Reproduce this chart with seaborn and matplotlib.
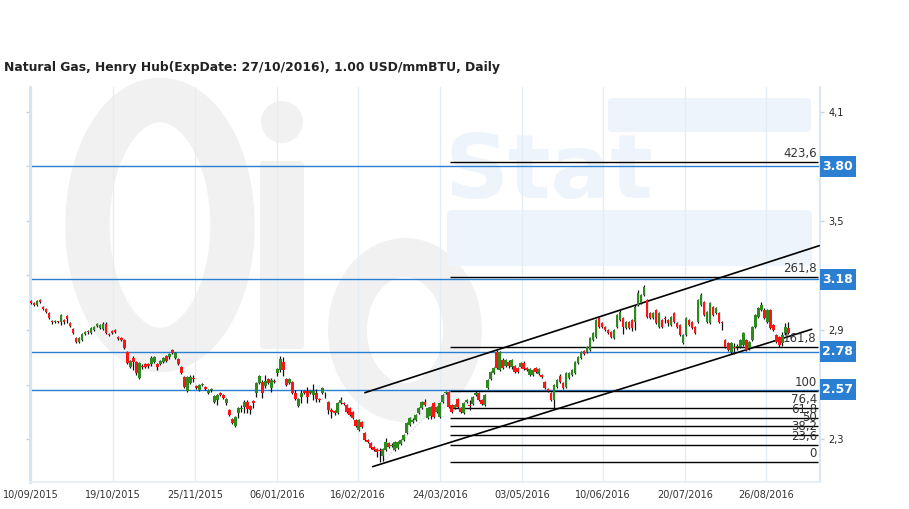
import matplotlib
matplotlib.use("Agg")
import matplotlib.pyplot as plt
import matplotlib.patches as mpatches
import matplotlib.transforms as mtransforms
import numpy as np
import pandas as pd
import seaborn as sns

# ---------------- data ----------------
title = "Natural Gas, Henry Hub(ExpDate: 27/10/2016), 1.00 USD/mmBTU, Daily"

opens = [3.060,3.049,3.038,3.065,3.027,3.016,2.994,2.950,2.944,2.948,
         2.944,2.955,2.977,2.939,2.906,2.856,2.834,2.845,2.878,2.895,
         2.884,2.900,2.922,2.911,2.906,2.933,2.878,2.895,2.900,2.862,
         2.856,2.845,2.779,2.697,2.746,2.724,2.636,2.702,2.713,2.713,
         2.713,2.724,2.713,2.713,2.724,2.757,2.752,2.790,2.746,2.741,
         2.697,2.643,2.565,2.608,2.636,2.592,2.570,2.597,2.586,2.553,
         2.570,2.504,2.515,2.553,2.542,2.498,2.460,2.410,2.372,2.443,
         2.465,2.476,2.504,2.482,2.507,2.553,2.608,2.614,2.592,2.630,
         2.581,2.622,2.664,2.680,2.724,2.630,2.608,2.614,2.553,2.482,
         2.531,2.564,2.564,2.553,2.542,2.553,2.520,2.553,2.545,2.504,
         2.460,2.454,2.443,2.498,2.498,2.487,2.471,2.449,2.405,2.350,
         2.394,2.334,2.295,2.279,2.257,2.246,2.240,2.207,2.240,2.279,
         2.262,2.240,2.251,2.273,2.295,2.334,2.378,2.394,2.405,2.443,
         2.471,2.504,2.416,2.427,2.498,2.449,2.421,2.504,2.553,2.559,
         2.487,2.471,2.520,2.471,2.443,2.504,2.490,2.493,2.542,2.553,
         2.515,2.487,2.581,2.630,2.664,2.780,2.680,2.735,2.702,2.724,
         2.697,2.702,2.691,2.697,2.719,2.691,2.653,2.653,2.691,2.658,
         2.653,2.614,2.575,2.553,2.515,2.586,2.647,2.608,2.586,2.636,
         2.653,2.664,2.719,2.746,2.785,2.779,2.790,2.845,2.862,2.966,
         2.939,2.917,2.900,2.889,2.856,2.917,2.955,2.966,2.911,2.944,
         2.955,2.944,3.038,3.049,3.093,3.065,2.994,2.966,3.010,2.917,
         2.955,2.966,2.955,2.927,2.994,2.939,2.927,2.829,2.873,2.955,
         2.944,2.917,2.944,3.038,3.054,2.944,2.939,3.027,2.994,2.994,
         2.944,2.845,2.829,2.779,2.807,2.807,2.807,2.818,2.845,2.801,
         2.845,2.917,2.972,3.010,3.010,2.944,3.010,2.927,2.873,2.862,
         2.829,2.884,2.911]
highs = [3.065,3.054,3.065,3.071,3.032,3.021,2.999,2.955,2.955,2.950,
         2.988,2.960,2.983,2.944,2.911,2.861,2.861,2.884,2.895,2.900,
         2.917,2.922,2.938,2.933,2.944,2.944,2.884,2.900,2.906,2.867,
         2.862,2.850,2.785,2.735,2.757,2.730,2.724,2.713,2.719,2.719,
         2.757,2.757,2.719,2.735,2.752,2.762,2.774,2.796,2.779,2.746,
         2.702,2.648,2.648,2.652,2.652,2.597,2.603,2.608,2.592,2.576,
         2.581,2.542,2.548,2.559,2.548,2.526,2.465,2.416,2.427,2.476,
         2.487,2.515,2.515,2.487,2.515,2.614,2.652,2.625,2.652,2.636,
         2.636,2.630,2.691,2.757,2.752,2.636,2.636,2.619,2.570,2.526,
         2.570,2.570,2.586,2.570,2.603,2.575,2.526,2.586,2.559,2.510,
         2.471,2.460,2.504,2.531,2.504,2.493,2.476,2.454,2.410,2.410,
         2.399,2.339,2.301,2.284,2.262,2.251,2.251,2.251,2.306,2.284,
         2.279,2.290,2.290,2.301,2.328,2.394,2.421,2.416,2.438,2.476,
         2.509,2.520,2.476,2.482,2.504,2.482,2.504,2.548,2.564,2.564,
         2.493,2.493,2.526,2.476,2.504,2.520,2.515,2.537,2.564,2.559,
         2.520,2.548,2.630,2.675,2.697,2.790,2.785,2.746,2.741,2.735,
         2.741,2.708,2.697,2.724,2.730,2.697,2.691,2.686,2.697,2.691,
         2.658,2.619,2.581,2.559,2.603,2.630,2.658,2.614,2.669,2.669,
         2.686,2.730,2.757,2.785,2.790,2.812,2.862,2.889,2.960,2.971,
         2.944,2.922,2.906,2.895,2.906,2.988,3.010,2.971,2.950,2.950,
         2.960,3.038,3.120,3.098,3.148,3.071,2.999,2.999,3.016,2.999,
         2.960,2.977,2.960,2.977,2.999,2.944,2.933,2.878,2.972,2.960,
         2.950,2.922,3.071,3.104,3.060,3.005,3.054,3.032,3.027,2.999,
         2.950,2.851,2.834,2.834,2.829,2.823,2.851,2.889,2.851,2.840,
         2.922,2.988,3.027,3.054,3.021,3.016,3.016,2.933,2.878,2.867,
         2.889,2.938,2.944]
lows = [3.043,3.032,3.032,3.049,3.010,2.993,2.960,2.933,2.938,2.940,
        2.927,2.933,2.939,2.916,2.878,2.828,2.828,2.840,2.873,2.878,
        2.878,2.895,2.917,2.906,2.900,2.878,2.867,2.878,2.884,2.845,
        2.840,2.795,2.713,2.691,2.680,2.655,2.630,2.686,2.691,2.691,
        2.702,2.719,2.680,2.708,2.719,2.724,2.741,2.768,2.741,2.708,
        2.658,2.581,2.560,2.603,2.614,2.576,2.565,2.592,2.570,2.548,
        2.559,2.498,2.487,2.537,2.520,2.487,2.427,2.383,2.367,2.416,
        2.449,2.443,2.443,2.438,2.471,2.531,2.603,2.526,2.581,2.603,
        2.559,2.611,2.647,2.669,2.647,2.592,2.603,2.548,2.515,2.476,
        2.498,2.548,2.498,2.548,2.515,2.504,2.504,2.548,2.526,2.438,
        2.416,2.432,2.438,2.493,2.487,2.443,2.427,2.410,2.367,2.344,
        2.361,2.290,2.279,2.246,2.235,2.202,2.176,2.180,2.235,2.251,
        2.257,2.235,2.246,2.268,2.290,2.328,2.372,2.388,2.399,2.438,
        2.465,2.482,2.410,2.410,2.416,2.443,2.416,2.498,2.548,2.471,
        2.443,2.465,2.471,2.443,2.438,2.498,2.460,2.487,2.537,2.509,
        2.487,2.482,2.575,2.625,2.658,2.686,2.675,2.686,2.697,2.691,
        2.686,2.664,2.664,2.691,2.680,2.675,2.647,2.647,2.664,2.653,
        2.636,2.576,2.559,2.509,2.471,2.581,2.608,2.576,2.581,2.630,
        2.647,2.658,2.713,2.741,2.762,2.774,2.785,2.840,2.856,2.911,
        2.911,2.895,2.878,2.856,2.851,2.911,2.950,2.878,2.906,2.906,
        2.895,2.900,3.032,3.043,3.087,2.966,2.960,2.960,2.933,2.911,
        2.911,2.939,2.922,2.922,2.939,2.911,2.867,2.823,2.867,2.922,
        2.906,2.878,2.939,3.032,2.977,2.939,2.933,2.977,2.988,2.939,
        2.900,2.801,2.785,2.768,2.768,2.790,2.801,2.812,2.785,2.790,
        2.840,2.911,2.966,3.005,2.960,2.939,2.906,2.895,2.829,2.807,
        2.812,2.873,2.878]
closes = [3.049,3.038,3.060,3.054,3.016,2.999,2.966,2.944,2.950,2.944,
          2.983,2.944,2.960,2.922,2.884,2.834,2.856,2.878,2.889,2.889,
          2.911,2.917,2.933,2.927,2.933,2.884,2.872,2.884,2.889,2.851,
          2.845,2.801,2.719,2.730,2.724,2.664,2.719,2.697,2.697,2.702,
          2.746,2.752,2.697,2.730,2.746,2.730,2.768,2.774,2.774,2.713,
          2.664,2.587,2.641,2.641,2.630,2.581,2.597,2.603,2.576,2.570,
          2.575,2.537,2.542,2.542,2.526,2.520,2.432,2.388,2.421,2.471,
          2.471,2.504,2.465,2.460,2.501,2.608,2.647,2.553,2.619,2.608,
          2.625,2.616,2.686,2.741,2.680,2.598,2.630,2.553,2.520,2.520,
          2.553,2.553,2.531,2.565,2.564,2.520,2.515,2.581,2.540,2.460,
          2.449,2.443,2.498,2.515,2.493,2.449,2.432,2.416,2.372,2.405,
          2.367,2.295,2.284,2.251,2.240,2.229,2.235,2.246,2.284,2.257,
          2.268,2.284,2.284,2.295,2.323,2.389,2.416,2.405,2.432,2.471,
          2.504,2.487,2.471,2.476,2.421,2.476,2.498,2.543,2.559,2.476,
          2.449,2.487,2.476,2.449,2.498,2.515,2.482,2.531,2.553,2.515,
          2.493,2.542,2.625,2.669,2.691,2.691,2.779,2.691,2.735,2.702,
          2.735,2.669,2.669,2.719,2.686,2.680,2.686,2.680,2.669,2.686,
          2.642,2.581,2.565,2.515,2.597,2.625,2.614,2.581,2.664,2.664,
          2.680,2.724,2.752,2.779,2.768,2.807,2.856,2.884,2.955,2.917,
          2.917,2.900,2.884,2.862,2.900,2.983,2.999,2.917,2.944,2.911,
          2.911,3.027,3.103,3.093,3.137,2.972,2.966,2.994,2.939,2.994,
          2.917,2.960,2.939,2.972,2.944,2.917,2.873,2.873,2.966,2.927,
          2.911,2.884,3.065,3.093,2.983,2.999,3.049,2.983,3.021,2.944,
          2.939,2.807,2.790,2.829,2.801,2.812,2.845,2.884,2.790,2.834,
          2.917,2.983,3.021,3.038,2.966,3.010,2.911,2.900,2.834,2.818,
          2.873,2.917,2.884]

date_labels = ["10/09/2015", "19/10/2015", "25/11/2015", "06/01/2016", "16/02/2016",
               "24/03/2016", "03/05/2016", "10/06/2016", "20/07/2016", "26/08/2016"]
date_positions = [0, 27.2, 54.5, 81.8, 108.8, 136.1, 163.4, 190.3, 217.6, 244.6]

level_values = [3.80, 3.18, 2.78, 2.57]
level_labels = ["3.80", "3.18", "2.78", "2.57"]

fib_low = 2.175
fib_high = 2.564
fib_ratios = [0, 23.6, 38.2, 50, 61.8, 76.4, 100, 161.8, 261.8, 423.6]
fib_labels = ["0", "23,6", "38,2", "50", "61,8", "76,4", "100", "161,8", "261,8", "423,6"]
fib_start, fib_end = 139.4, 261.9

upper_channel_x = [111.1, 262.3]
upper_channel_y = [2.555, 3.364]
lower_channel_x = [113.7, 259.8]
lower_channel_y = [2.148, 2.904]
fib_trend_x = [117.1, 138.8]
fib_trend_y = [2.174, 2.559]

y_ticks_major = [2.3, 2.9, 3.5, 4.1]
y_ticks_minor = [2.6, 3.2, 3.8]
y_tick_labels = ["2,3", "2,9", "3,5", "4,1"]

# ---------------- figure ----------------
sns.set_theme(style="white")
plt.rcParams['font.family'] = ['DejaVu Sans']

W, H = 909, 509
fig = plt.figure(figsize=(W / 100, H / 100), dpi=100)
fig.patch.set_facecolor("white")

# background watermark axes in pixel coordinates
bg = fig.add_axes([0, 0, 1, 1], zorder=0)
bg.set_xlim(0, W)
bg.set_ylim(H, 0)
bg.axis("off")
wm_gray = "#f1f1f1"
wm_blue = "#edf4fb"
bg.add_patch(mpatches.Ellipse((160, 225), 145, 250, fill=False, ec=wm_gray, lw=32))
bg.add_patch(mpatches.FancyBboxPatch((264, 165), 36, 180, boxstyle="round,pad=4", fc=wm_gray, ec="none"))
bg.add_patch(mpatches.Ellipse((282, 122), 42, 42, fc=wm_gray, ec="none"))
bg.add_patch(mpatches.Ellipse((405, 330), 115, 145, fill=False, ec=wm_gray, lw=28))
bg.add_patch(mpatches.FancyBboxPatch((612, 102), 195, 26, boxstyle="round,pad=4", fc=wm_blue, ec="none"))
bg.add_patch(mpatches.FancyBboxPatch((452, 215), 355, 46, boxstyle="round,pad=5", fc=wm_blue, ec="none"))
bg.text(445, 198, "Stat", fontsize=64, fontweight="bold", color=wm_blue, ha="left", va="baseline")

# main axes
ax_left, ax_right = 29.5, 819.8
ax_top, ax_bottom = 87, 482
ax = fig.add_axes([ax_left / W, (H - ax_bottom) / H, (ax_right - ax_left) / W, (ax_bottom - ax_top) / H], zorder=1)
ax.patch.set_alpha(0)
ax.set_xlim(-0.5, 262.5)
ax.set_ylim(2.0635, 4.2374)

# grid
ax.set_xticks(date_positions)
ax.set_xticklabels(date_labels, fontsize=7, color="#333333")
ax.tick_params(axis="x", length=0, pad=6)
ax.grid(axis="x", color="#e4edf6", lw=1)
ax.grid(axis="y", visible=False)

ax.set_yticks(y_ticks_major)
ax.set_yticklabels(y_tick_labels, fontsize=7, color="#222222")
ax.set_yticks(y_ticks_minor, minor=True)
ax.tick_params(axis="y", which="major", left=True, right=True, labelleft=False, labelright=True,
               length=3, width=1, color="#c8d3dc", pad=3)
ax.tick_params(axis="y", which="minor", left=True, right=False, length=3, width=1, color="#c8d3dc")

ax.spines["top"].set_visible(False)
ax.spines["left"].set_color("#d3e3f0")
ax.spines["left"].set_linewidth(2)
ax.spines["right"].set_color("#d3e3f0")
ax.spines["right"].set_linewidth(1.2)
ax.spines["bottom"].set_color("#e4edf6")
ax.spines["bottom"].set_linewidth(1.2)

# level lines (blue)
blue = "#2b7fd2"
trans_box = mtransforms.blended_transform_factory(ax.transAxes, ax.transData)
box_w = 36 / (ax_right - ax_left)
px_per_unit = (ax_bottom - ax_top) / (4.2374 - 2.0635)
box_h = 21 / px_per_unit
for v, lab in zip(level_values, level_labels):
    ax.axhline(v, color=blue, lw=1.0, zorder=2)
    rect = mpatches.FancyBboxPatch((1.0, v - box_h / 2), box_w, box_h, boxstyle="square,pad=0",
                                   transform=trans_box, fc=blue, ec="none", clip_on=False, zorder=5)
    ax.add_patch(rect)
    ax.text(1.0 + box_w / 2, v, lab, transform=trans_box, ha="center", va="center",
            fontsize=9, fontweight="bold", color="white", clip_on=False, zorder=6)

# fibonacci lines
for r, lab in zip(fib_ratios, fib_labels):
    lvl = fib_low + (fib_high - fib_low) * r / 100.0
    ax.hlines(lvl, fib_start, fib_end, color="black", lw=1, zorder=3)
    ax.annotate(lab, xy=(261.5, lvl), xytext=(0, 1.5), textcoords="offset points",
                ha="right", va="bottom", fontsize=8.5, color="#333333", zorder=4)

# fib trend (faint) and channel lines
ax.plot(fib_trend_x, fib_trend_y, color="#cfcfcf", lw=0.8, ls=":", zorder=2)
chan = pd.DataFrame({"x": upper_channel_x + lower_channel_x,
                     "y": upper_channel_y + lower_channel_y,
                     "line": ["upper", "upper", "lower", "lower"]})
sns.lineplot(data=chan, x="x", y="y", units="line", estimator=None, color="black", lw=1.2,
             ax=ax, legend=False, zorder=3)
ax.set_xlabel("")
ax.set_ylabel("")

# candles
df = pd.DataFrame({"o": opens, "h": highs, "l": lows, "c": closes})
df["i"] = np.arange(len(df))
up = df["c"] >= df["o"]
green = "#2e8a1f"
red = "#ff1414"
ax.vlines(df["i"], df["l"], df["h"], color="#111111", lw=0.9, zorder=4)
body_bottom = np.minimum(df["o"], df["c"])
body_height = np.maximum(np.abs(df["c"] - df["o"]), 0.005)
ax.bar(df["i"][up], body_height[up], bottom=body_bottom[up], width=0.9, color=green, lw=0, zorder=5)
ax.bar(df["i"][~up], body_height[~up], bottom=body_bottom[~up], width=0.9, color=red, lw=0, zorder=5)

# title
fig.text(4 / W, 1 - 68 / H, title, fontsize=8.9, fontweight="bold", color="#222222", ha="left", va="center")

fig.savefig("out.png", dpi=100)
